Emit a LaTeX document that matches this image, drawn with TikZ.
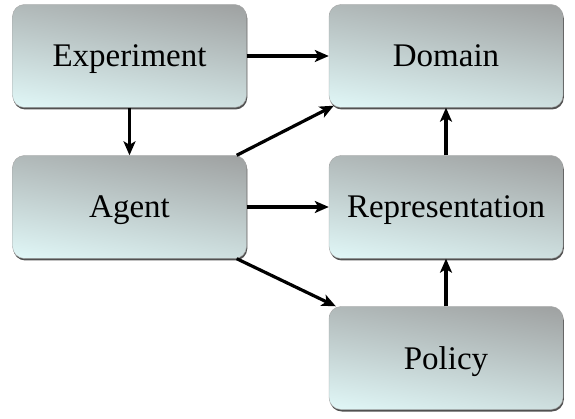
\documentclass[tikz,border=0pt]{standalone}
\usepackage{fontspec}
\setmainfont{Liberation Serif}
\usetikzlibrary{arrows.meta,shadows}
\pgfdeclarefunctionalshading{boxshade}{\pgfpointorigin}{\pgfpoint{100bp}{100bp}}{}{
  25 sub 50 div 0.72 mul exch 25 sub 50 div 0.28 mul add
  dup 0 lt {pop 0} if dup 1 gt {pop 1} if
  dup dup
  -0.26 mul 0.88 add
  3 1 roll
  -0.34 mul 0.97 add
  exch
  -0.34 mul 0.97 add
}
\tikzset{
  box/.style={rectangle, rounded corners=12pt, minimum width=234pt, minimum height=103pt,
    inner sep=0pt, draw=black!35, line width=0.4pt,
    shading=boxshade,
    text height=22pt, text depth=0pt,
    drop shadow={shadow xshift=0.8pt, shadow yshift=-2pt, opacity=0.8, fill=black!85},
    font=\fontsize{33}{40}\selectfont},
  conn/.style={line width=3.2pt, -{Stealth[length=14pt,width=12pt,inset=3.5pt]}}
}
\begin{document}
\begin{tikzpicture}[x=1pt,y=-1pt]
\useasboundingbox (0,0) rectangle (575,419);
\node[box] (exp) at (129.5,56) {Experiment};
\node[box] (agent) at (129.5,207) {Agent};
\node[box] (dom) at (446,56) {Domain};
\node[box] (rep) at (446,207) {Representation};
\node[box] (pol) at (446,358) {Policy};
\draw[conn] (exp.east) -- (dom.west);
\draw[conn] (exp.south) -- (agent.north);
\draw[conn] ([xshift=-10pt]agent.north east) -- ([xshift=5pt,yshift=2pt]dom.south west);
\draw[conn] (agent.east) -- (rep.west);
\draw[conn] ([xshift=-10pt]agent.south east) -- ([xshift=7pt]pol.north west);
\draw[conn] (pol.north) -- (rep.south);
\draw[conn] (rep.north) -- (dom.south);
\end{tikzpicture}
\end{document}
